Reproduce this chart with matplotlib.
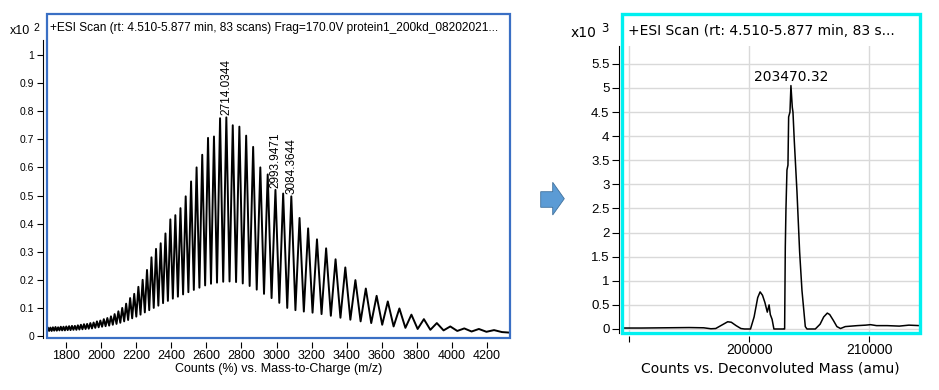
import matplotlib
matplotlib.use("Agg")
import matplotlib.pyplot as plt
import numpy as np
from matplotlib.patches import Rectangle, Polygon

plt.rcParams['font.family'] = ['Liberation Sans', 'DejaVu Sans']
RIGHT_FONT = ['DejaVu Sans']

W, H = 939, 390

# left panel: charge state envelope, counts x10^2
peak_mz = [1682.6, 1696.6, 1710.8, 1725.3, 1740.1, 1755.1, 1770.3, 1785.8, 1801.6, 1817.7,
           1834.1, 1850.7, 1867.7, 1885.0, 1902.6, 1920.5, 1938.8, 1957.4, 1976.4, 1995.8,
           2015.6, 2035.7, 2056.3, 2077.2, 2098.6, 2120.5, 2142.8, 2165.6, 2188.9, 2212.6,
           2236.9, 2261.8, 2287.2, 2313.2, 2339.7, 2366.9, 2394.8, 2423.3, 2452.5, 2482.3,
           2513.0, 2544.4, 2576.6, 2609.6, 2643.5, 2678.2, 2714.0, 2750.6, 2788.3, 2827.0,
           2866.8, 2907.7, 2949.8, 2993.9, 3037.9, 3084.4, 3131.3, 3180.2, 3230.7, 3282.8,
           3336.6, 3392.2, 3449.7, 3509.1, 3570.7, 3634.4, 3700.5, 3769.0, 3840.1, 3913.9,
           3990.6, 4070.4, 4153.5, 4240.0, 4330.2]
peak_height = [0.030, 0.030, 0.030, 0.031, 0.032, 0.031, 0.033, 0.033, 0.034, 0.035,
               0.036, 0.036, 0.038, 0.040, 0.042, 0.043, 0.046, 0.048, 0.052, 0.055,
               0.060, 0.064, 0.070, 0.078, 0.088, 0.100, 0.115, 0.135, 0.150, 0.175,
               0.200, 0.235, 0.280, 0.310, 0.330, 0.365, 0.415, 0.430, 0.455, 0.497,
               0.550, 0.600, 0.645, 0.705, 0.710, 0.775, 0.778, 0.750, 0.745, 0.713,
               0.673, 0.600, 0.575, 0.520, 0.507, 0.497, 0.420, 0.383, 0.344, 0.312,
               0.273, 0.244, 0.199, 0.169, 0.143, 0.123, 0.098, 0.076, 0.060, 0.046,
               0.034, 0.027, 0.025, 0.021, 0.012]
valley_height = [0.018, 0.018, 0.018, 0.019, 0.019, 0.020, 0.020, 0.020, 0.021, 0.021,
                 0.022, 0.022, 0.023, 0.024, 0.025, 0.026, 0.027, 0.029, 0.031, 0.033,
                 0.035, 0.037, 0.040, 0.043, 0.047, 0.052, 0.057, 0.063, 0.069, 0.076,
                 0.084, 0.092, 0.100, 0.108, 0.117, 0.125, 0.133, 0.140, 0.148, 0.156,
                 0.164, 0.172, 0.180, 0.186, 0.190, 0.193, 0.194, 0.192, 0.187, 0.178,
                 0.165, 0.150, 0.135, 0.118, 0.100, 0.092, 0.087, 0.083, 0.078, 0.072,
                 0.065, 0.058, 0.052, 0.046, 0.040, 0.034, 0.029, 0.025, 0.022, 0.020,
                 0.018, 0.016, 0.015, 0.014]
peak_labels = ["2714.0344", "2993.9471", "3084.3644"]
mz_ticks = [1800, 2000, 2200, 2400, 2600, 2800, 3000, 3200, 3400, 3600, 3800, 4000, 4200]
left_yticks = [0, 0.1, 0.2, 0.3, 0.4, 0.5, 0.6, 0.7, 0.8, 0.9, 1]

# right panel: deconvoluted mass, counts x10^3
mass = [189400, 191000, 193000, 195000, 196200, 196800, 197200, 197700, 198200, 198500,
        198900, 199300, 199600, 200100, 200400, 200700, 200900, 201100, 201300, 201500,
        201650, 201750, 201900, 202050, 202900, 202944, 203000, 203056, 203139, 203222,
        203278, 203389, 203470, 203583, 203639, 203750, 203972, 204194, 204389, 204667,
        204806, 205500, 205900, 206200, 206500, 206700, 207000, 207300, 207600, 208000,
        208500, 209000, 209700, 210100, 210600, 211500, 212500, 213300, 214200]
mass_counts = [0.02, 0.02, 0.025, 0.03, 0.025, 0.005, 0.01, 0.08, 0.15, 0.14,
               0.07, 0.01, 0.0, 0.0, 0.25, 0.65, 0.77, 0.70, 0.55, 0.35,
               0.50, 0.30, 0.20, 0.0, 0.0, 0.0, 1.7, 2.5, 3.3, 3.4,
               4.4, 4.5, 5.05, 4.6, 4.5, 3.9, 2.85, 1.6, 0.8, 0.05,
               0.0, 0.0, 0.1, 0.25, 0.33, 0.30, 0.18, 0.05, 0.01, 0.05,
               0.06, 0.07, 0.08, 0.09, 0.07, 0.07, 0.06, 0.08, 0.07]
top_mass_label = "203470.32"
mass_ticks = [190000, 200000, 210000]
mass_tick_labels = ["", "200000", "210000"]
right_yticks = [0, 0.5, 1, 1.5, 2, 2.5, 3, 3.5, 4, 4.5, 5, 5.5]


def fx(px):
    return px / W


def fy(py):
    return 1 - py / H


def box(x0, y0, x1, y1):
    return [fx(x0), fy(y1), fx(x1) - fx(x0), fy(y0) - fy(y1)]


fig = plt.figure(figsize=(W / 100, H / 100), dpi=100)

# ---- left panel
ax1 = fig.add_axes(box(47, 14, 510, 338))
xs, ys = [], []
for i in range(len(peak_mz)):
    xs.append(peak_mz[i])
    ys.append(peak_height[i])
    if i < len(valley_height):
        xs.append((peak_mz[i] + peak_mz[i + 1]) / 2)
        ys.append(valley_height[i])
ax1.plot(xs, ys, color="black", lw=1.4)
ax1.set_xlim(1691.7, 4331)
ax1.set_ylim(-0.0071, 1.1459)
for lab in peak_labels:
    m = float(lab)
    h = np.interp(m, xs, ys)
    ax1.text(m, h + 0.008, lab, rotation=90, ha="center", va="bottom", fontsize=8.5)

for s in ["top", "right", "bottom"]:
    ax1.spines[s].set_visible(False)
ax1.spines["left"].set_position(("outward", 3))
ax1.spines["left"].set_bounds(-0.0071, 1.053)
ax1.spines["bottom"].set_position(("outward", 3))
ax1.set_xticks(mz_ticks)
ax1.set_yticks(left_yticks)
ax1.set_yticklabels(["%g" % v for v in left_yticks])
ax1.tick_params(axis="x", direction="out", length=4, pad=1.5, labelsize=9)
ax1.tick_params(axis="y", direction="out", length=4, pad=2, labelsize=7.5)
ax1.add_patch(Rectangle((0, 0), 1, 1, transform=ax1.transAxes, fill=False,
                        ec="#3a6fc4", lw=1.6, clip_on=False, zorder=5))

fig.text(fx(50), fy(28), "+ESI Scan (rt: 4.510-5.877 min, 83 scans) Frag=170.0V protein1_200kd_08202021...",
         fontsize=8.6, va="center", ha="left")
fig.text(fx(10), fy(31), "x10", fontsize=9, va="center", ha="left")
fig.text(fx(33), fy(28), "2", fontsize=7.5, va="center", ha="left")
fig.text(fx(278.5), fy(369), "Counts (%) vs. Mass-to-Charge (m/z)", fontsize=9, va="center", ha="center")

# ---- right panel
ax2 = fig.add_axes(box(622, 46, 920, 333))
ax2.plot(mass, mass_counts, color="black", lw=1.1)
ax2.set_xlim(189392, 214225)
ax2.set_ylim(-0.083, 5.871)
ax2.set_xticks(mass_ticks)
ax2.set_xticklabels(mass_tick_labels, family=RIGHT_FONT)
ax2.set_yticks(right_yticks)
ax2.set_yticklabels(["%g" % v for v in right_yticks], family=RIGHT_FONT)
ax2.grid(True, color="#d9d9d9", lw=1)
ax2.set_axisbelow(True)
for s in ["top", "right", "bottom"]:
    ax2.spines[s].set_visible(False)
ax2.spines["left"].set_position(("outward", 2))
ax2.spines["bottom"].set_position(("outward", 2))
ax2.tick_params(axis="x", direction="out", length=4, pad=1, labelsize=10)
ax2.tick_params(axis="y", direction="out", length=5, pad=2, labelsize=9.5)
top_i = int(np.argmax(mass_counts))
ax2.text(float(top_mass_label), mass_counts[top_i] + 0.03, top_mass_label,
         ha="center", va="bottom", fontsize=10, family=RIGHT_FONT)

fig.add_artist(Rectangle((fx(622), fy(333)), fx(920) - fx(622), fy(14) - fy(333),
                         transform=fig.transFigure, fill=False, ec="#00f0f0", lw=2.4))
fig.text(fx(628), fy(31), "+ESI Scan (rt: 4.510-5.877 min, 83 s...", fontsize=10,
         va="center", ha="left", family=RIGHT_FONT)
fig.text(fx(571), fy(33), "x10", fontsize=10, va="center", ha="left", family=RIGHT_FONT)
fig.text(fx(601), fy(29), "3", fontsize=8.5, va="center", ha="left", family=RIGHT_FONT)
fig.text(fx(770.5), fy(368), "Counts vs. Deconvoluted Mass (amu)", fontsize=10,
         va="center", ha="center", family=RIGHT_FONT)

# arrow between panels
arrow_px = [(540.7, 191.7), (552.7, 191.7), (552.7, 182.3), (564.3, 198.7),
            (552.7, 215), (552.7, 207.3), (540.7, 207.3)]
fig.add_artist(Polygon([(fx(a), fy(b)) for a, b in arrow_px], closed=True,
                       transform=fig.transFigure, fc="#5b9bd5", ec="#41719c", lw=0.6))

fig.savefig("out.png", dpi=100)
